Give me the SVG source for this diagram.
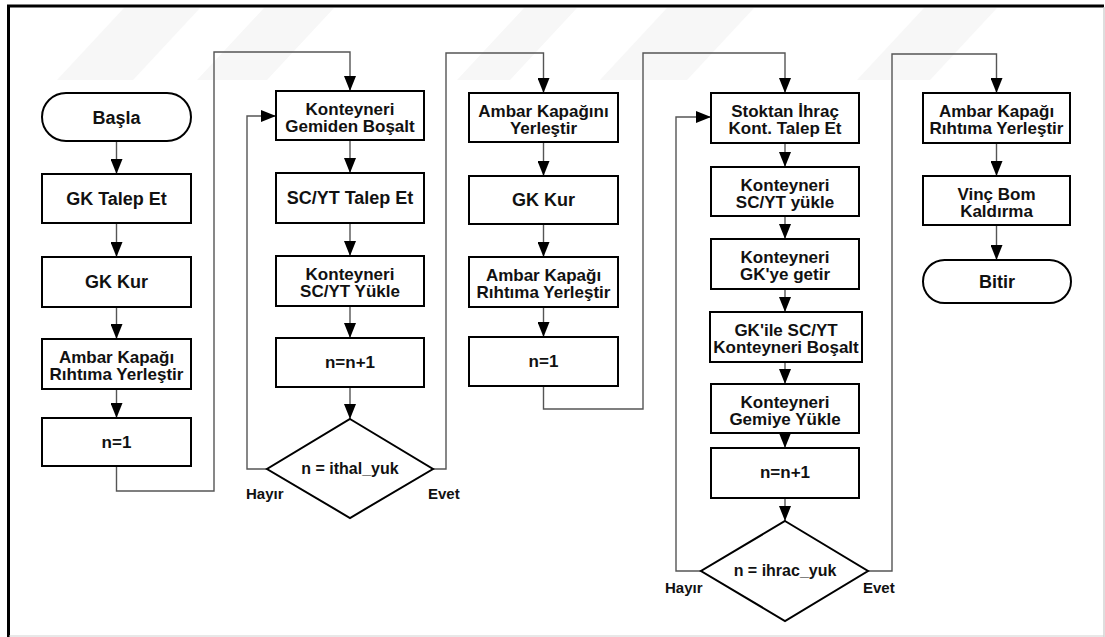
<svg xmlns="http://www.w3.org/2000/svg" width="1105" height="637" viewBox="0 0 1105 637">
<defs>
<marker id="ah" markerUnits="userSpaceOnUse" markerWidth="15" markerHeight="12" refX="15" refY="6" orient="auto">
<path d="M0,0 L15,6 L0,12 z" fill="#000"/>
</marker>
<style>
.box{fill:#fff;stroke:#000;stroke-width:2}
.t{font-family:"Liberation Sans",Arial,sans-serif;font-weight:bold;font-size:17px;fill:#111;text-anchor:middle}
.big{font-size:18px}
.lbl{font-family:"Liberation Sans",Arial,sans-serif;font-weight:bold;font-size:15px;fill:#111}
.c{fill:none;stroke:#555;stroke-width:1.4}
.a{marker-end:url(#ah)}
.wm{fill:#f7f7f7}
</style>
</defs>
<rect x="0" y="0" width="1105" height="637" fill="#fff"/>
<g id="watermark">
<polygon class="wm" points="57,80 133,80 200,8 124,8"/>
<polygon class="wm" points="197,80 267,80 334,8 264,8"/>
<polygon class="wm" points="457,80 510,80 577,8 524,8"/>
<polygon class="wm" points="600,80 687,80 754,8 667,8"/>
<polygon class="wm" points="857,80 930,80 997,8 924,8"/>
</g>
<g id="frame">
<line x1="7" y1="6" x2="1104" y2="6" stroke="#000" stroke-width="3"/>
<line x1="8.5" y1="5" x2="8.5" y2="637" stroke="#000" stroke-width="3"/>
<line x1="1104" y1="7" x2="1104" y2="637" stroke="#c8c8c8" stroke-width="1.2"/>
<line x1="9" y1="636" x2="1104" y2="636" stroke="#d2d2d2" stroke-width="1.2"/>
</g>
<g id="connectors">
<path class="c a" d="M116.5 141 V174"/>
<path class="c a" d="M116.5 223 V257"/>
<path class="c a" d="M116.5 307 V339"/>
<path class="c a" d="M116.5 389 V418"/>
<path class="c a" d="M116.5 466 V491 H214 V52 H350 V91"/>
<path class="c a" d="M350 140 V173"/>
<path class="c a" d="M350 223 V256"/>
<path class="c a" d="M350 306 V338"/>
<path class="c a" d="M350 387 V419"/>
<path class="c a" d="M267 469 H247 V116 H276"/>
<path class="c a" d="M433 469 H446 V53 H543.5 V93"/>
<path class="c a" d="M543.5 142 V176"/>
<path class="c a" d="M543.5 224 V257"/>
<path class="c a" d="M543.5 307 V337"/>
<path class="c a" d="M543.5 386 V409 H643 V53 H785 V93"/>
<path class="c a" d="M785 143 V167"/>
<path class="c a" d="M785 216 V239"/>
<path class="c a" d="M785 289 V312"/>
<path class="c a" d="M785 362 V384"/>
<path class="c a" d="M785 433 V448"/>
<path class="c a" d="M785 498 V521"/>
<path class="c a" d="M701 571 H676 V117 H711"/>
<path class="c a" d="M868 571 H892 V54 H996.5 V93"/>
<path class="c a" d="M996.5 143 V176"/>
<path class="c a" d="M996.5 225 V260"/>
</g>
<g id="basla"><rect class="box" x="42" y="93" width="149" height="48" rx="24"/><text class="t big" x="116.5" y="124">Başla</text></g>
<g id="gk_talep"><rect class="box" x="42" y="174" width="149" height="49"/><text class="t big" x="116.5" y="205">GK Talep Et</text></g>
<g id="gk_kur1"><rect class="box" x="42" y="257" width="149" height="50"/><text class="t big" x="116.5" y="288">GK Kur</text></g>
<g id="ambar1"><rect class="box" x="42" y="339" width="149" height="50"/><text class="t" x="116.5" y="363">Ambar Kapağı</text><text class="t" x="116.5" y="380">Rıhtıma Yerleştir</text></g>
<g id="n1a"><rect class="box" x="42" y="418" width="149" height="48"/><text class="t" x="116.5" y="448">n=1</text></g>

<g id="gemiden"><rect class="box" x="276" y="91" width="148" height="49"/><text class="t" x="350" y="115">Konteyneri</text><text class="t" x="350" y="132">Gemiden Boşalt</text></g>
<g id="sc_talep"><rect class="box" x="276" y="173" width="148" height="50"/><text class="t big" x="350" y="204">SC/YT Talep Et</text></g>
<g id="sc_yukle"><rect class="box" x="276" y="256" width="148" height="50"/><text class="t" x="350" y="280">Konteyneri</text><text class="t" x="350" y="297">SC/YT Yükle</text></g>
<g id="nn1a"><rect class="box" x="276" y="338" width="148" height="49"/><text class="t" x="350" y="368">n=n+1</text></g>
<g id="dec1"><polygon class="box" points="350,419 433,469 350,518 267,469"/><text class="t" x="350" y="474" style="font-size:16px">n = ithal_yuk</text></g>
<text class="lbl" x="246" y="499">Hayır</text>
<text class="lbl" x="428" y="499">Evet</text>

<g id="ambar_yer"><rect class="box" x="469" y="93" width="149" height="49"/><text class="t" x="543.5" y="117">Ambar Kapağını</text><text class="t" x="543.5" y="134">Yerleştir</text></g>
<g id="gk_kur2"><rect class="box" x="469" y="176" width="149" height="48"/><text class="t big" x="543.5" y="206">GK Kur</text></g>
<g id="ambar2"><rect class="box" x="469" y="257" width="149" height="50"/><text class="t" x="543.5" y="281">Ambar Kapağı</text><text class="t" x="543.5" y="298">Rıhtıma Yerleştir</text></g>
<g id="n1b"><rect class="box" x="469" y="337" width="149" height="49"/><text class="t" x="543.5" y="367">n=1</text></g>

<g id="stoktan"><rect class="box" x="711" y="93" width="148" height="50"/><text class="t" x="785" y="117">Stoktan İhraç</text><text class="t" x="785" y="134">Kont. Talep Et</text></g>
<g id="sc_yukle2"><rect class="box" x="711" y="167" width="148" height="49"/><text class="t" x="785" y="191">Konteyneri</text><text class="t" x="785" y="208">SC/YT yükle</text></g>
<g id="gk_getir"><rect class="box" x="711" y="239" width="148" height="50"/><text class="t" x="785" y="263">Konteyneri</text><text class="t" x="785" y="280">GK'ye getir</text></g>
<g id="gk_bosalt"><rect class="box" x="710" y="312" width="152" height="50"/><text class="t" x="786" y="336">GK'ile SC/YT</text><text class="t" x="786" y="353">Konteyneri Boşalt</text></g>
<g id="gemiye"><rect class="box" x="711" y="384" width="148" height="49"/><text class="t" x="785" y="408">Konteyneri</text><text class="t" x="785" y="425">Gemiye Yükle</text></g>
<g id="nn1b"><rect class="box" x="711" y="448" width="148" height="50"/><text class="t" x="785" y="478">n=n+1</text></g>
<g id="dec2"><polygon class="box" points="785,521 868,571 785,621 701,571"/><text class="t" x="785" y="576" style="font-size:16px">n = ihrac_yuk</text></g>
<text class="lbl" x="665" y="593">Hayır</text>
<text class="lbl" x="863" y="593">Evet</text>

<g id="ambar3"><rect class="box" x="923" y="93" width="147" height="50"/><text class="t" x="996.5" y="117">Ambar Kapağı</text><text class="t" x="996.5" y="134">Rıhtıma Yerleştir</text></g>
<g id="vinc"><rect class="box" x="923" y="176" width="147" height="49"/><text class="t" x="996.5" y="200">Vinç Bom</text><text class="t" x="996.5" y="217">Kaldırma</text></g>
<g id="bitir"><rect class="box" x="923" y="260" width="148" height="43" rx="21.5"/><text class="t big" x="997" y="288">Bitir</text></g>
</svg>
